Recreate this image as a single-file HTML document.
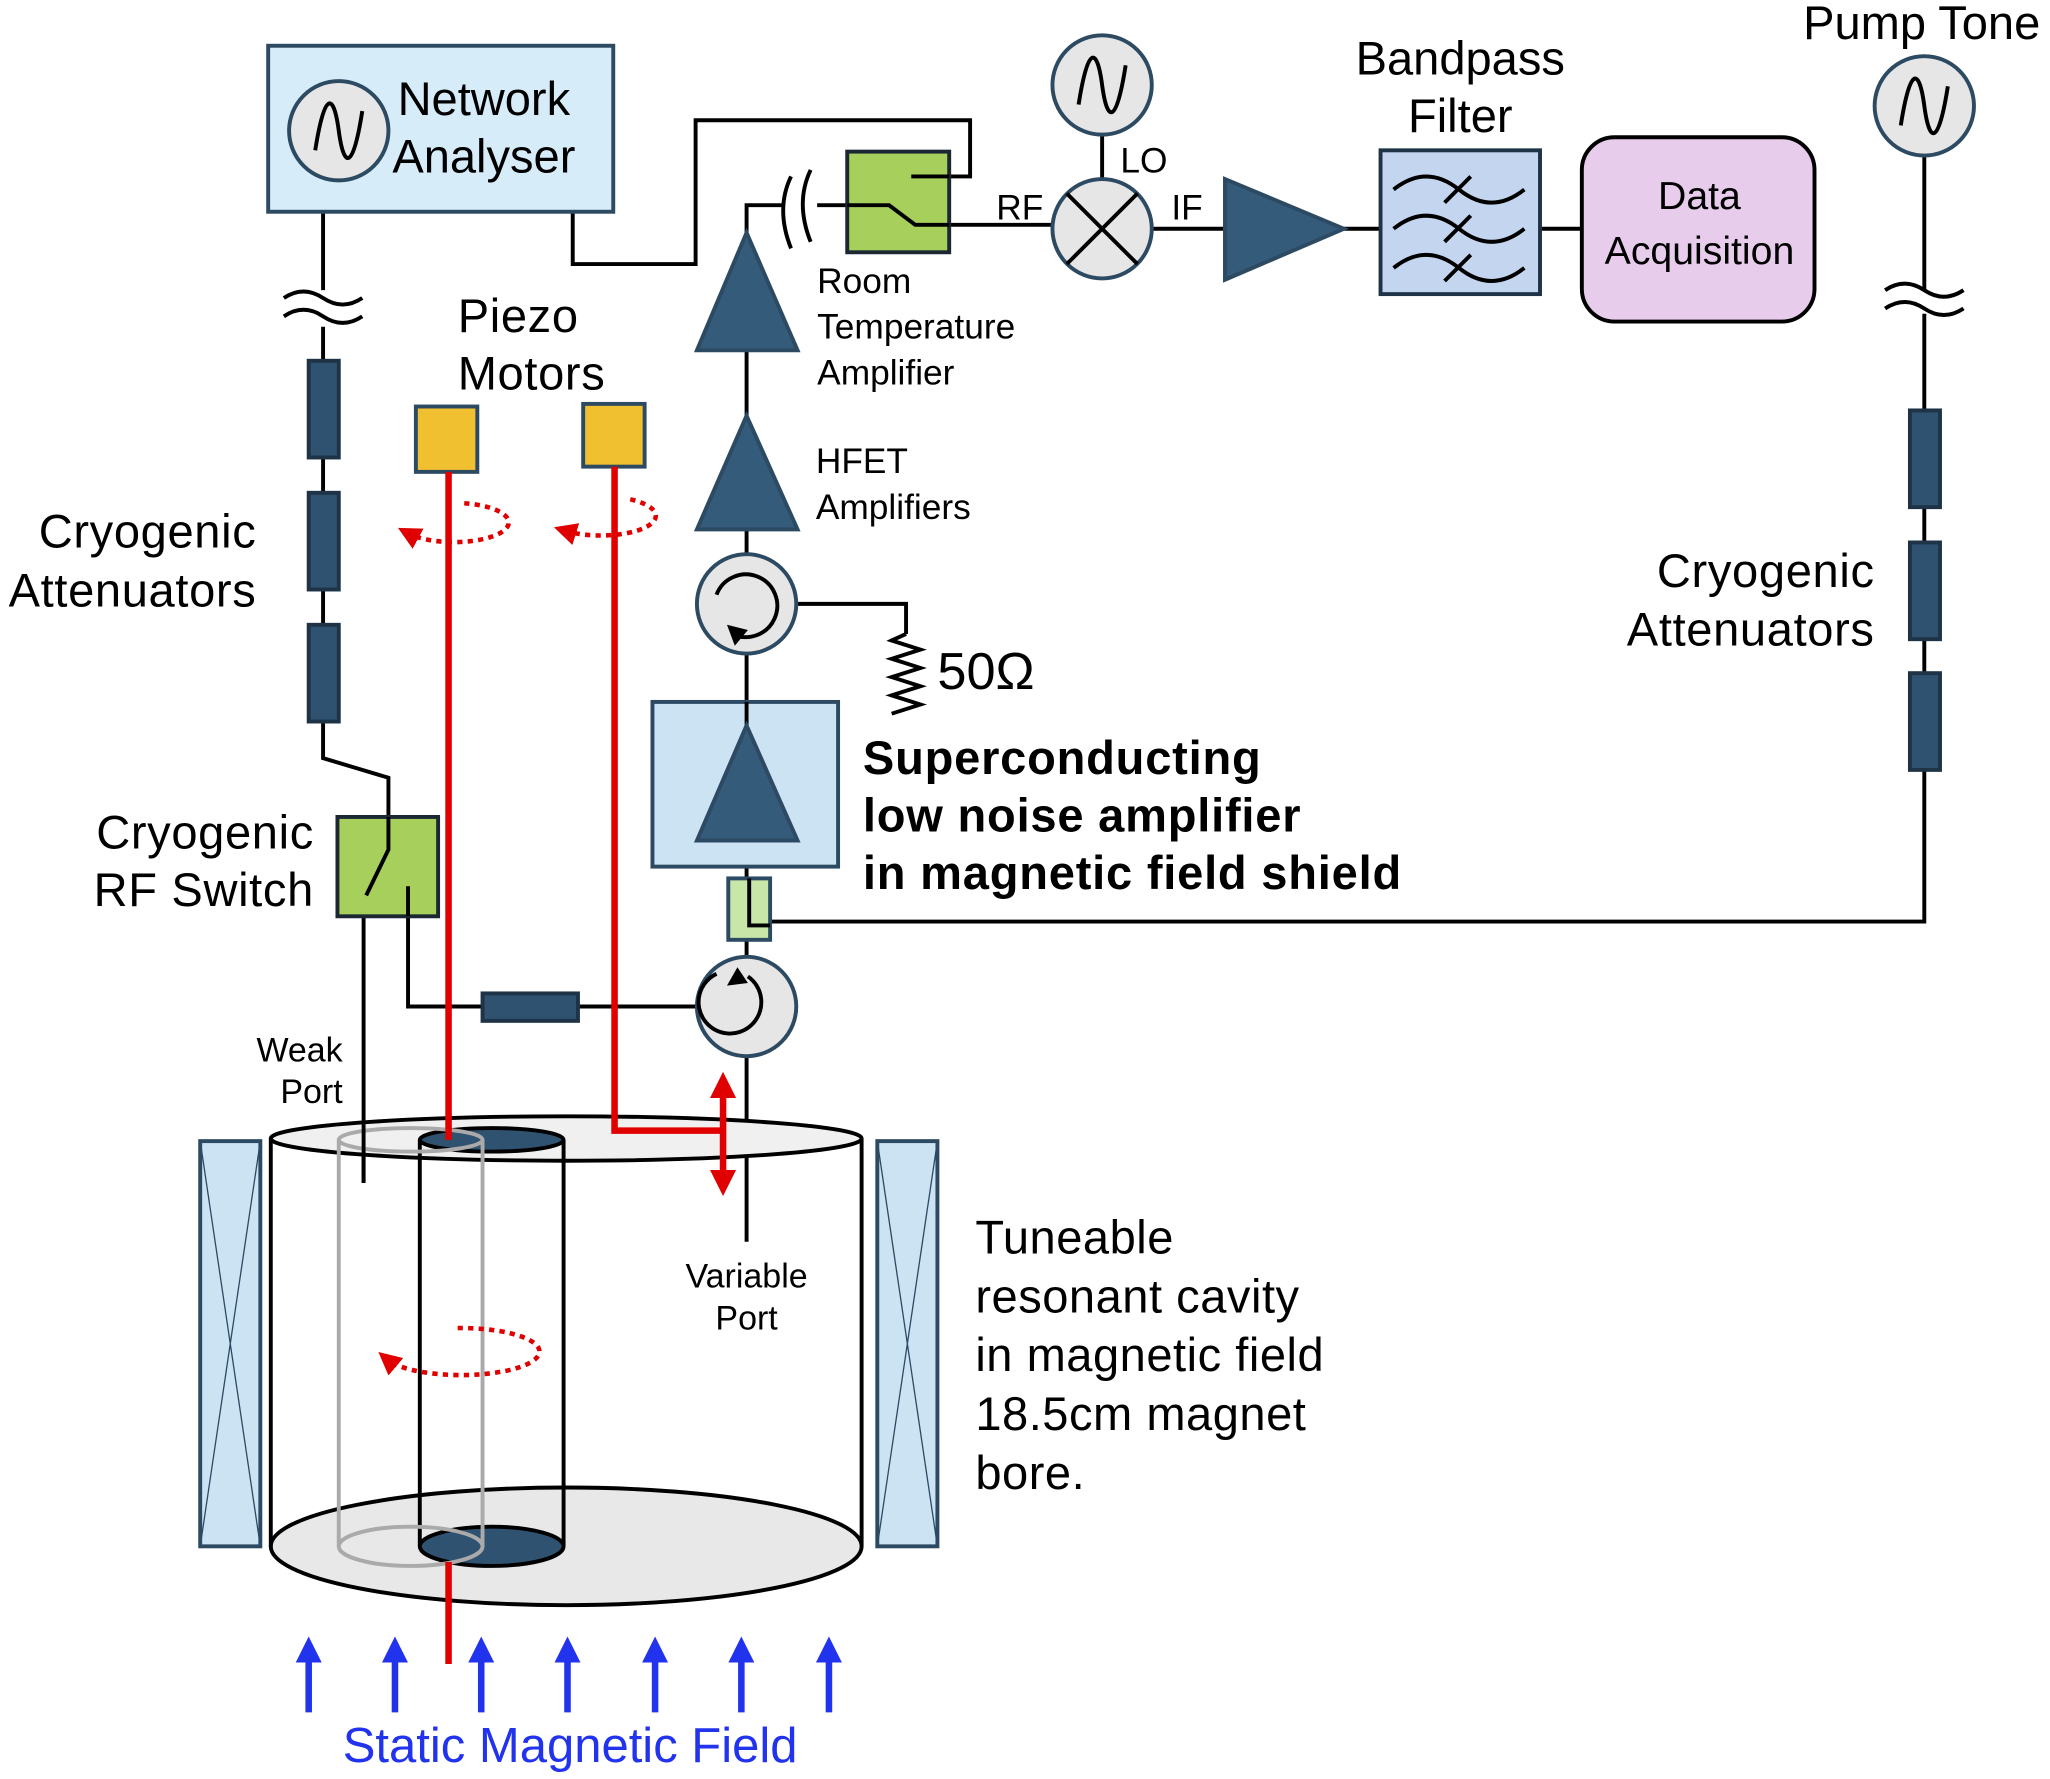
<!DOCTYPE html>
<html><head><meta charset="utf-8"><style>html,body{margin:0;padding:0;background:#fff}svg{display:block}text{font-family:"Liberation Sans",Arial,sans-serif}</style></head><body>
<svg xmlns="http://www.w3.org/2000/svg" width="2050" height="1779" viewBox="0 0 1568 1361">
<defs>
<marker id="ar" viewBox="0 0 10 10" refX="5" refY="5" markerWidth="4" markerHeight="4" orient="auto-start-reverse"><path d="M0,0L10,5L0,10z" fill="#e00000"/></marker>
<marker id="ab" viewBox="0 0 10 10" refX="5" refY="5" markerWidth="4" markerHeight="4" orient="auto"><path d="M0,0L10,5L0,10z" fill="#2233ee"/></marker>
<marker id="ad" viewBox="0 0 10 10" refX="5" refY="5" markerWidth="5" markerHeight="5" orient="auto"><path d="M0,0L10,5L0,10z" fill="#e00000"/></marker>
</defs>
<g stroke="#000" stroke-width="3" fill="none">
<polyline points="247,162 247,222"/>
<path d="M217,228 q15,-10 30,0 t30,0 M217,242 q15,-10 30,0 t30,0"/>
<polyline points="247,250 247,580 297,595 297,650"/>
<line x1="297" y1="650" x2="280" y2="685"/>
<polyline points="278,685 278,905"/>
<polyline points="312,678 312,770 532,770"/>
<line x1="571" y1="178" x2="571" y2="950"/>
<polyline points="571,178 571,157 598,157"/>
<path d="M605,135 q-12,25 0,55 M620,130 q-12,25 0,55"/>
<polyline points="625,157 680,157 700,172 805,172"/>
<polyline points="697,135 742,135 742,92 532,92 532,202 438,202 438,162"/>
<polyline points="609,462 693,462 693,485"/>
<polyline points="693,485 682,490 704,497 682,504 704,511 682,518 704,525 682,532 704,539 682,546"/>
<polyline points="589,705 1472,705 1472,240"/>
<path d="M1442,222 q15,-10 30,0 t30,0 M1442,236 q15,-10 30,0 t30,0"/>
<line x1="1472" y1="222" x2="1472" y2="119"/>
<line x1="843" y1="103" x2="843" y2="137"/>
<line x1="881" y1="175" x2="937" y2="175"/>
<line x1="1028" y1="175" x2="1056" y2="175"/>
<line x1="1178" y1="175" x2="1210" y2="175"/>
</g>
<rect x="205" y="35" width="264" height="127" fill="#d6ecf8" stroke="#2d4a63" stroke-width="3"/>
<g stroke="#2d4a63" stroke-width="3" fill="#e6e6e6">
<circle cx="259" cy="100" r="38"/><circle cx="843" cy="65" r="38"/><circle cx="1472" cy="81" r="38"/><circle cx="843" cy="175" r="38"/>
<circle cx="571" cy="462" r="38"/><circle cx="571" cy="770" r="38"/>
</g>
<g stroke="#000" stroke-width="3" fill="none">
<path d="M241,115 C248,70 255,70 259,100 C263,130 270,130 277,85"/>
<path d="M825,80 C832,35 839,35 843,65 C847,95 854,95 861,50"/>
<path d="M1454,96 C1461,51 1468,51 1472,81 C1476,111 1483,111 1490,66"/>
<path d="M816,148 L870,202 M870,148 L816,202" stroke-width="3"/>
<path d="M560,485 A24,24 0 1 0 548,455"/>
<path d="M548,745 A24,24 0 1 0 572,747"/>
</g>
<path d="M556,478 l16,4 -10,12z" fill="#000"/>
<path d="M564,740 l8,12 -16,2z" fill="#000"/>
<text x="370" y="88" font-size="36" text-anchor="middle">Network</text>
<text x="370" y="132" font-size="36" text-anchor="middle">Analyser</text>
<g fill="#2f5270" stroke="#1e3346" stroke-width="3">
<rect x="236" y="276" width="23" height="74"/><rect x="236" y="377" width="23" height="74"/><rect x="236" y="478" width="23" height="74"/>
<rect x="1461" y="314" width="23" height="74"/><rect x="1461" y="415" width="23" height="74"/><rect x="1461" y="515" width="23" height="74"/>
<rect x="369" y="760" width="73" height="21"/>
</g>
<rect x="258" y="625" width="77" height="76" fill="#a6cf5b" stroke="#1b2833" stroke-width="3"/>
<g stroke="#000" stroke-width="3" fill="none"><polyline points="297,625 297,650 280,685"/><polyline points="312,678 312,701"/></g>
<rect x="648" y="116" width="78" height="77" fill="#a6cf5b" stroke="#1b2833" stroke-width="3"/>
<g stroke="#000" stroke-width="3" fill="none"><polyline points="648,157 680,157 700,172 726,172"/><polyline points="697,135 726,135"/></g>
<rect x="499" y="537" width="142" height="126" fill="#cce3f3" stroke="#2d4a63" stroke-width="3"/>
<line x1="571" y1="537" x2="571" y2="555" stroke="#000" stroke-width="3"/>
<g fill="#355b7a" stroke="#2d4a63" stroke-width="3">
<polygon points="571,555 533,643 610,643"/>
<polygon points="571,318 533,405 610,405"/>
<polygon points="571,178 533,268 610,268"/>
<polygon points="937,137 937,214 1028,175"/>
</g>
<rect x="557" y="672" width="32" height="47" fill="#c8e6a8" stroke="#2d4a63" stroke-width="3"/>
<polyline points="573,672 573,708 589,708" stroke="#000" stroke-width="3" fill="none"/>
<rect x="1056" y="115" width="122" height="110" fill="#c4d6ef" stroke="#1e3346" stroke-width="3"/>
<g stroke="#000" stroke-width="3" fill="none">
<path d="M1066,145 q25,-20 50,0 t50,0 M1066,175 q25,-20 50,0 t50,0 M1066,205 q25,-20 50,0 t50,0"/>
<path d="M1105,155 l20,-20 M1105,185 l20,-20 M1105,215 l20,-20"/>
</g>
<rect x="1210" y="105" width="178" height="141" rx="25" fill="#e8ccec" stroke="#000" stroke-width="3"/>
<text x="1300" y="160" font-size="30" text-anchor="middle">Data</text>
<text x="1300" y="202" font-size="30" text-anchor="middle">Acquisition</text>
<g font-size="27">
<text x="857" y="132">LO</text><text x="762" y="168">RF</text><text x="896" y="168">IF</text>
<text x="625" y="224">Room</text><text x="625" y="259">Temperature</text><text x="625" y="294">Amplifier</text>
<text x="624" y="362">HFET</text><text x="624" y="397">Amplifiers</text>
</g>
<g font-size="36">
<text x="1117" y="57" text-anchor="middle">Bandpass</text><text x="1117" y="101" text-anchor="middle">Filter</text>
<text x="1470" y="30" text-anchor="middle">Pump Tone</text>
<text x="350" y="254" letter-spacing="0.5">Piezo</text><text x="350" y="298" letter-spacing="0.5">Motors</text>
<text x="196" y="419" text-anchor="end" letter-spacing="0.5">Cryogenic</text><text x="196" y="464" text-anchor="end" letter-spacing="0.5">Attenuators</text>
<text x="1434" y="449" text-anchor="end" letter-spacing="0.5">Cryogenic</text><text x="1434" y="494" text-anchor="end" letter-spacing="0.5">Attenuators</text>
<text x="240" y="649" text-anchor="end" letter-spacing="0.5">Cryogenic</text><text x="240" y="693" text-anchor="end" letter-spacing="0.5">RF Switch</text>
<g letter-spacing="0.4"><text x="746" y="959">Tuneable</text><text x="746" y="1004">resonant cavity</text><text x="746" y="1049">in magnetic field</text><text x="746" y="1094">18.5cm magnet</text><text x="746" y="1139">bore.</text></g>
</g>
<text x="717" y="527" font-size="40" font-family="Liberation Serif,serif">50Ω</text>
<g font-size="36" font-weight="bold" letter-spacing="0.6"><text x="660" y="592">Superconducting</text><text x="660" y="636">low noise amplifier</text><text x="660" y="680">in magnetic field shield</text></g>
<g font-size="26"><text x="262" y="812" text-anchor="end">Weak</text><text x="262" y="844" text-anchor="end">Port</text>
<text x="571" y="985" text-anchor="middle">Variable</text><text x="571" y="1017" text-anchor="middle">Port</text></g>
<rect x="153" y="873" width="46" height="310" fill="#cce3f3" stroke="#2d4a63" stroke-width="3"/>
<rect x="671" y="873" width="46" height="310" fill="#cce3f3" stroke="#2d4a63" stroke-width="3"/>
<path d="M153,873 L199,1183 M199,873 L153,1183 M671,873 L717,1183 M717,873 L671,1183" stroke="#2d4a63" stroke-width="1"/>
<ellipse cx="433" cy="1183" rx="226" ry="45" fill="#e8e8e8" stroke="#000" stroke-width="3"/>
<ellipse cx="433" cy="871" rx="226" ry="17" fill="#f0f0f0" stroke="#000" stroke-width="3"/>
<line x1="207" y1="871" x2="207" y2="1183" stroke="#000" stroke-width="3"/>
<line x1="659" y1="871" x2="659" y2="1183" stroke="#000" stroke-width="3"/>
<ellipse cx="376" cy="1183" rx="55" ry="15" fill="#2f5270" stroke="#000" stroke-width="3"/>
<line x1="321" y1="872" x2="321" y2="1183" stroke="#000" stroke-width="3"/>
<line x1="431" y1="872" x2="431" y2="1183" stroke="#000" stroke-width="3"/>
<ellipse cx="376" cy="872" rx="55" ry="9" fill="#2f5270" stroke="#000" stroke-width="3"/>
<g stroke="#aaa" stroke-width="3" fill="none"><ellipse cx="314" cy="872" rx="55" ry="9"/><ellipse cx="314" cy="1183" rx="55" ry="15"/><line x1="259" y1="872" x2="259" y2="1183"/><line x1="369" y1="872" x2="369" y2="1183"/></g>
<line x1="278" y1="860" x2="278" y2="905" stroke="#000" stroke-width="3"/>
<rect x="318" y="311" width="47" height="50" fill="#f0c030" stroke="#2d4a63" stroke-width="3"/>
<rect x="446" y="309" width="47" height="48" fill="#f0c030" stroke="#2d4a63" stroke-width="3"/>
<g stroke="#e00000" stroke-width="5" fill="none">
<line x1="343" y1="361" x2="343" y2="872"/>
<polyline points="470,357 470,865 553,865"/>
<line x1="553" y1="830" x2="553" y2="905" marker-start="url(#ar)" marker-end="url(#ar)"/>
<line x1="343" y1="1195" x2="343" y2="1273"/>
</g>
<g stroke="#e00000" stroke-width="3.5" fill="none" stroke-dasharray="4,4">
<path d="M355,385 A42,15 0 1 1 312,408" marker-end="url(#ad)"/>
<path d="M482,382 A42,15 0 1 1 432,406" marker-end="url(#ad)"/>
<path d="M350,1016 A60,18 0 1 1 296,1040" marker-end="url(#ad)"/>
</g>
<g stroke="#2233ee" stroke-width="5">
<line x1="236" y1="1310" x2="236" y2="1262" marker-end="url(#ab)"/><line x1="302" y1="1310" x2="302" y2="1262" marker-end="url(#ab)"/>
<line x1="368" y1="1310" x2="368" y2="1262" marker-end="url(#ab)"/><line x1="434" y1="1310" x2="434" y2="1262" marker-end="url(#ab)"/>
<line x1="501" y1="1310" x2="501" y2="1262" marker-end="url(#ab)"/><line x1="567" y1="1310" x2="567" y2="1262" marker-end="url(#ab)"/>
<line x1="634" y1="1310" x2="634" y2="1262" marker-end="url(#ab)"/>
</g>
<text x="436" y="1348" font-size="37.5" fill="#2233ee" text-anchor="middle">Static Magnetic Field</text>
</svg>
</body></html>
